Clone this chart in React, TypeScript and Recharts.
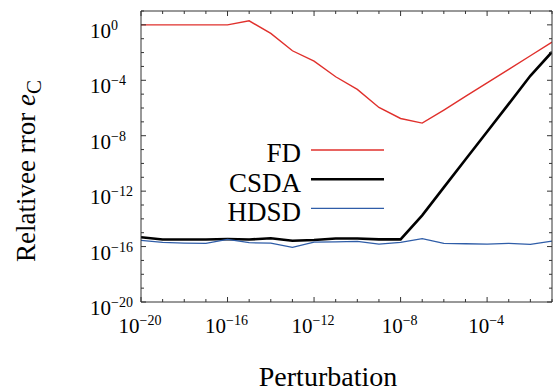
import React from 'react';
import { LineChart, Line, XAxis, YAxis, Legend } from 'recharts';

const perturbations = [
  1e-20, 1e-19, 1e-18, 1e-17, 1e-16, 1e-15, 1e-14, 1e-13, 1e-12, 1e-11,
  1e-10, 1e-9, 1e-8, 1e-7, 1e-6, 1e-5, 1e-4, 1e-3, 1e-2, 1e-1,
];
const fdError = [
  1, 1, 1, 1, 1, 1.95, 0.24, 1.35e-2, 2.4e-3, 1.8e-4,
  2.2e-5, 1.1e-6, 1.75e-7, 8.1e-8, 7.1e-7, 6.8e-6, 6.5e-5, 6.2e-4, 5.9e-3, 5.6e-2,
];
const csdaError = [
  4.7e-16, 3.2e-16, 3.2e-16, 3.2e-16, 3.5e-16, 3.2e-16, 4.0e-16, 2.6e-16, 3.0e-16, 3.8e-16,
  3.8e-16, 3.3e-16, 3.3e-16, 1.8e-14, 1.86e-12, 1.9e-10, 1.95e-8, 2.0e-6, 2.1e-4, 1.1e-2,
];
const hdsdError = [
  2.8e-16, 2.0e-16, 1.8e-16, 1.7e-16, 3.3e-16, 1.9e-16, 1.8e-16, 8.7e-17, 2.1e-16, 2.2e-16,
  2.4e-16, 1.5e-16, 2.0e-16, 3.7e-16, 1.7e-16, 1.6e-16, 1.5e-16, 1.7e-16, 1.45e-16, 2.5e-16,
];
const xTickValues = [
  1e-20, 1e-19, 1e-18, 1e-17, 1e-16, 1e-15, 1e-14, 1e-13, 1e-12, 1e-11,
  1e-10, 1e-9, 1e-8, 1e-7, 1e-6, 1e-5, 1e-4, 1e-3, 1e-2, 1e-1,
];
const yTickValues = [
  1e-20, 1e-19, 1e-18, 1e-17, 1e-16, 1e-15, 1e-14, 1e-13, 1e-12, 1e-11,
  1e-10, 1e-9, 1e-8, 1e-7, 1e-6, 1e-5, 1e-4, 1e-3, 1e-2, 1e-1, 1, 10,
];
const xLabelExponents = [-20, -16, -12, -8, -4];
const yLabelExponents = [-20, -16, -12, -8, -4, 0];
const seriesNames = ['FD', 'CSDA', 'HDSD'];
const xTitle = 'Perturbation';
const yTitle = 'Relativee rror ';

const data = perturbations.map((h, i) => ({
  h,
  fd: fdError[i],
  csda: csdaError[i],
  hdsd: hdsdError[i],
}));

const FONT = "'Liberation Serif', 'Times New Roman', serif";
const AXIS = '#333';
const expOf = (v: number) => Math.round(Math.log10(v));
const expText = (e: number) => (e < 0 ? '\u2212' + String(-e) : String(e));
const serif = { fontFamily: FONT };

const BottomTick = (props: any) => {
  const { x, y, payload } = props;
  const e = expOf(payload.value);
  const major = xLabelExponents.includes(e);
  return (
    <g>
      <line x1={x} x2={x} y1={y} y2={y - (major ? 5 : 3)} stroke={AXIS} strokeWidth={1} />
      {major && (
        <text x={x - 1} y={y + 31} textAnchor="middle" style={serif} fontSize={21} fill="#000">
          10<tspan dy={-8} fontSize={14} style={serif}>{expText(e)}</tspan>
        </text>
      )}
    </g>
  );
};

const TopTick = (props: any) => {
  const { x, y, payload } = props;
  const e = expOf(payload.value);
  const major = xLabelExponents.includes(e);
  return <line x1={x} x2={x} y1={y} y2={y + (major ? 5 : 3)} stroke={AXIS} strokeWidth={1} />;
};

const LeftTick = (props: any) => {
  const { x, y, payload } = props;
  const e = expOf(payload.value);
  const major = yLabelExponents.includes(e);
  return (
    <g>
      <line x1={x} x2={x + (major ? 5 : 3)} y1={y} y2={y} stroke={AXIS} strokeWidth={1} />
      {major && (
        <text x={90} y={y + 13} textAnchor="start" style={serif} fontSize={21} fill="#000">
          10<tspan dy={-8} fontSize={14} style={serif}>{expText(e)}</tspan>
        </text>
      )}
    </g>
  );
};

const RightTick = (props: any) => {
  const { x, y, payload } = props;
  const e = expOf(payload.value);
  const major = yLabelExponents.includes(e);
  return <line x1={x} x2={x - (major ? 5 : 3)} y1={y} y2={y} stroke={AXIS} strokeWidth={1} />;
};

const XTitle = () => (
  <text x={328} y={386} textAnchor="middle" style={serif} fontSize={28} fill="#000">
    {xTitle}
  </text>
);

const YTitle = () => (
  <text
    x={35}
    y={262}
    transform="rotate(-90, 35, 262)"
    textAnchor="start"
    style={serif}
    fontSize={27}
    fill="#000"
  >
    {yTitle}
    <tspan fontStyle="italic">e</tspan>
    <tspan dy={6} fontSize={21}>C</tspan>
  </text>
);

const LegendContent = (props: any) => {
  const payload = [...(props.payload || [])].sort(
    (a: any, b: any) => seriesNames.indexOf(a.value) - seriesNames.indexOf(b.value)
  );
  return (
    <svg width={560} height={392} style={{ position: 'absolute', left: 0, top: 0, pointerEvents: 'none' }}>
      {payload.map((p: any, i: number) => {
        const cy = 150 + 29.2 * i;
        const sw = (p.payload && p.payload.strokeWidth) || 1.5;
        return (
          <g key={p.value}>
            <text x={301} y={cy + 12.4} textAnchor="end" style={serif} fontSize={27} fill="#000">
              {p.value}
            </text>
            <line x1={311} x2={384} y1={cy} y2={cy} stroke={p.color} strokeWidth={sw} />
          </g>
        );
      })}
    </svg>
  );
};

export default function App() {
  return (
    <div style={{ position: 'absolute', left: 0, top: 0, width: 560, height: 392, background: '#fff' }}>
      <LineChart width={560} height={392} data={data} margin={{ top: 0, right: 0, bottom: 0, left: 0 }}>
        <XAxis
          dataKey="h"
          type="number"
          scale="log"
          domain={[1e-20, 1e-1]}
          allowDataOverflow
          ticks={xTickValues}
          interval={0}
          height={90}
          tickSize={0}
          tickMargin={0}
          tickLine={false}
          axisLine={{ stroke: AXIS, strokeWidth: 1 }}
          tick={<BottomTick />}
          label={<XTitle />}
        />
        <XAxis
          xAxisId="top"
          orientation="top"
          dataKey="h"
          type="number"
          scale="log"
          domain={[1e-20, 1e-1]}
          allowDataOverflow
          ticks={xTickValues}
          interval={0}
          height={11}
          tickSize={0}
          tickMargin={0}
          tickLine={false}
          axisLine={{ stroke: AXIS, strokeWidth: 1 }}
          tick={<TopTick />}
        />
        <YAxis
          type="number"
          scale="log"
          domain={[1e-20, 10]}
          allowDataOverflow
          ticks={yTickValues}
          interval={0}
          width={141}
          tickSize={0}
          tickMargin={0}
          tickLine={false}
          axisLine={{ stroke: AXIS, strokeWidth: 1 }}
          tick={<LeftTick />}
          label={<YTitle />}
        />
        <YAxis
          yAxisId="right"
          orientation="right"
          type="number"
          scale="log"
          domain={[1e-20, 10]}
          allowDataOverflow
          ticks={yTickValues}
          interval={0}
          width={8}
          tickSize={0}
          tickMargin={0}
          tickLine={false}
          axisLine={{ stroke: AXIS, strokeWidth: 1 }}
          tick={<RightTick />}
        />
        <Legend
          layout="horizontal"
          verticalAlign="middle"
          align="center"
          itemSorter={null as any}
          wrapperStyle={{ left: 0, top: 0, width: 560, height: 392, margin: 0, padding: 0 }}
          content={<LegendContent />}
        />
        <Line
          name={seriesNames[0]}
          dataKey="fd"
          type="linear"
          stroke="#e0302c"
          strokeWidth={1.4}
          dot={false}
          isAnimationActive={false}
        />
        <Line
          name={seriesNames[1]}
          dataKey="csda"
          type="linear"
          stroke="#000000"
          strokeWidth={2.6}
          dot={false}
          isAnimationActive={false}
        />
        <Line
          name={seriesNames[2]}
          dataKey="hdsd"
          type="linear"
          stroke="#2f5da8"
          strokeWidth={1.3}
          dot={false}
          isAnimationActive={false}
        />
      </LineChart>
    </div>
  );
}
